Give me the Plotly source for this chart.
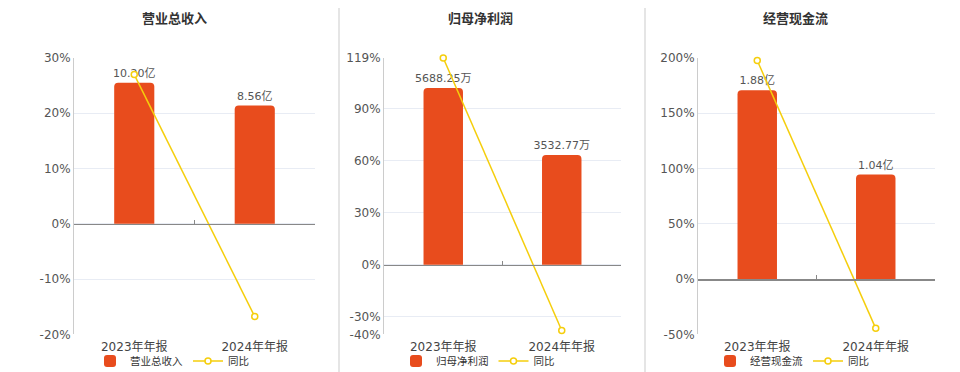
import plotly.graph_objects as go

# ---- data ----
categories = ["2023年年报", "2024年年报"]

titles = ["营业总收入", "归母净利润", "经营现金流"]

revenue_values = [10.20, 8.56]          # 亿
revenue_labels = ["10.20亿", "8.56亿"]
revenue_yoy = [27.0, -16.8]             # %

profit_values = [5688.25, 3532.77]      # 万
profit_labels = ["5688.25万", "3532.77万"]
profit_yoy = [119.0, -37.8]

cash_values = [1.88, 1.04]              # 亿
cash_labels = ["1.88亿", "1.04亿"]
cash_yoy = [197.7, -44.6]

pct_tick_vals = [
    [-20, -10, 0, 10, 20, 30],
    [-40, -30, 0, 30, 60, 90, 119],
    [-50, 0, 50, 100, 150, 200],
]
pct_ranges = [[-20, 30], [-40, 119], [-50, 200]]
bar_ranges = [[-8, 12], [-2237, 6656], [-0.55, 2.2]]

# ---- style ----
BAR_COLOR = "#E84C1D"
LINE_COLOR = "#F5CE0C"
FONT = "DejaVu Sans, Noto Sans CJK SC, sans-serif"
GRID = "#E8ECF4"

W, H = 960, 372
x_domains = [[74 / W, 315 / W], [384 / W, 621 / W], [698 / W, 935 / W]]
y_domain = [1 - 334.3 / H, 1 - 58 / H]
title_x = [174 / W, 480 / W, 795 / W]
legend_x = [172 / W, 478 / W, 792 / W]

panels = [
    (revenue_values, revenue_labels, revenue_yoy),
    (profit_values, profit_labels, profit_yoy),
    (cash_values, cash_labels, cash_yoy),
]

fig = go.Figure()
layout = dict(
    template="none",
    width=W, height=H,
    margin=dict(l=0, r=0, t=0, b=0, pad=0, autoexpand=False),
    paper_bgcolor="white", plot_bgcolor="white",
    font=dict(family=FONT, size=12, color="#555"),
    annotations=[], shapes=[],
)

for i, (vals, labels, yoy) in enumerate(panels):
    n = i + 1
    xa = "x" if n == 1 else f"x{n}"
    xz = f"x{n + 3}"
    yb = "y" if n == 1 else f"y{2 * n - 1}"
    yl = f"y{2 * n}"
    leg = "legend" if n == 1 else f"legend{n}"

    fig.add_trace(go.Bar(
        x=categories, y=vals, name=titles[i],
        xaxis=xa, yaxis=yb, width=0.333,
        marker=dict(color=BAR_COLOR, cornerradius=4, line=dict(width=0)),
        text=labels, textposition="outside", cliponaxis=False,
        constraintext="none",
        textfont=dict(size=11, color="#555", family=FONT),
        legend=leg, hoverinfo="skip",
    ))
    fig.add_trace(go.Scatter(
        x=categories, y=yoy, name="同比",
        xaxis=xa, yaxis=yl, mode="lines+markers", cliponaxis=False,
        line=dict(color=LINE_COLOR, width=1.5),
        marker=dict(symbol="circle", size=6, color="white",
                    line=dict(color=LINE_COLOR, width=1.5)),
        legend=leg, hoverinfo="skip",
    ))
    # helper trace for the zero axis line
    fig.add_trace(go.Scatter(x=[], y=[], xaxis=xz, yaxis=yb,
                             showlegend=False, hoverinfo="skip"))

    pr = pct_ranges[i]
    zero_pos = y_domain[0] + (0 - pr[0]) / (pr[1] - pr[0]) * (y_domain[1] - y_domain[0])

    axkey = "xaxis" if n == 1 else f"xaxis{n}"
    layout[axkey] = dict(
        domain=x_domains[i], anchor=yb, type="category", automargin=False,
        range=[-0.5, 1.5], showline=False, showgrid=False, zeroline=False,
        ticks="", ticklabelstandoff=4,
        tickfont=dict(size=12, color="#444", family=FONT),
    )
    layout[f"xaxis{n + 3}"] = dict(
        domain=x_domains[i], anchor="free", position=zero_pos, automargin=False,
        overlaying=xa, type="linear", range=[-0.5, 1.5],
        tickvals=[0.5, 1.5], ticks="inside", ticklen=4, tickcolor="#888",
        showticklabels=False, showline=True, linecolor="#888", linewidth=1.5,
        showgrid=False, zeroline=False,
    )
    ybkey = "yaxis" if n == 1 else f"yaxis{2 * n - 1}"
    layout[ybkey] = dict(
        domain=y_domain, anchor=xa, range=bar_ranges[i], automargin=False,
        visible=False, showgrid=False, zeroline=False,
    )
    layout[f"yaxis{2 * n}"] = dict(
        domain=y_domain, anchor=xa, overlaying=yb, side="left", automargin=False,
        range=pr, tickvals=pct_tick_vals[i],
        ticktext=[f"{v}%" for v in pct_tick_vals[i]],
        showgrid=True, gridcolor=GRID, gridwidth=1,
        zeroline=False, showline=True, linecolor="#CCCCCC", linewidth=1,
        ticks="", tickfont=dict(size=12, color="#555", family=FONT),
    )
    layout[leg] = dict(
        x=legend_x[i], y=1 - 361 / H, xanchor="center", yanchor="middle",
        orientation="h", font=dict(size=10.5, color="#333", family=FONT),
        bgcolor="rgba(0,0,0,0)", itemwidth=30, tracegroupgap=0,
        itemclick=False, itemdoubleclick=False,
    )
    layout["annotations"].append(dict(
        text=f"<b>{titles[i]}</b>", x=title_x[i], y=1 - 19 / H,
        xref="paper", yref="paper", xanchor="center", yanchor="middle",
        showarrow=False, font=dict(size=13, color="#333", family=FONT),
    ))

for xd in [339 / W, 645 / W]:
    layout["shapes"].append(dict(
        type="line", xref="paper", yref="paper", x0=xd, x1=xd,
        y0=0, y1=1 - 8 / H, line=dict(color="#DDDDDD", width=1.5),
    ))

layout["barmode"] = "group"
fig.update_layout(**layout)
fig.write_html(
    "out.html",
    config={"displayModeBar": False, "staticPlot": True},
    post_script="document.body.style.margin='0';document.body.style.overflow='hidden';",
)
